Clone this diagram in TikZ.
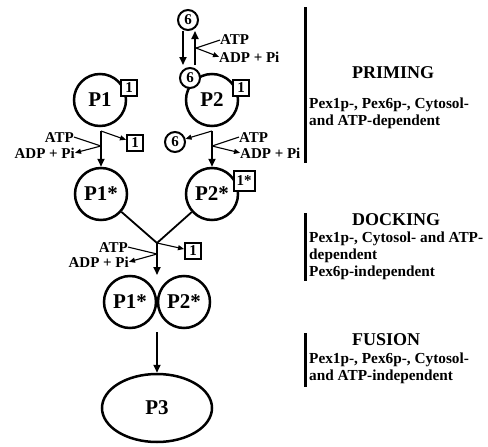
\documentclass[tikz,border=0pt]{standalone}
\usepackage{fontspec}
\setmainfont{Liberation Serif}
\usetikzlibrary{arrows.meta,shapes.geometric}
\begin{document}
\begin{tikzpicture}[x=1pt,y=-1pt,
  circ/.style={circle,draw,line width=2.5pt,inner sep=0pt,minimum size=52pt,fill=white,font=\fontsize{21}{21}\selectfont\bfseries},
  sixc/.style={circle,draw,line width=2pt,inner sep=0pt,minimum size=20pt,fill=white,font=\fontsize{15}{15}\selectfont\bfseries},
  sq/.style={rectangle,draw,line width=2pt,inner sep=0pt,minimum size=16pt,fill=white,font=\fontsize{15}{15}\selectfont\bfseries},
  lab/.style={inner sep=0pt,font=\fontsize{15}{15}\selectfont\bfseries},
  body/.style={inner sep=0pt,font=\fontsize{15.3}{15.3}\selectfont\bfseries},
  ttl/.style={inner sep=0pt,font=\fontsize{18}{18}\selectfont\bfseries},
  arr/.style={-{Triangle[length=8pt,width=7pt]},line width=1.8pt},
  thinarr/.style={-{Triangle[length=6pt,width=5pt]},line width=1.1pt},
  thinln/.style={line width=1.1pt},
  bar/.style={line width=3pt}
]
\useasboundingbox (0,0) rectangle (488,447);

% priming top
\node[circ] (P1) at (100,100) {P1};
\node[circ] (P2) at (212,100) {P2};
\node[sq] (b1) at (129,88) {1};
\node[sq] (b2) at (241,88) {1};
\node[sixc] (s6top) at (188,20) {6};
\node[sixc] (s6) at (190,78) {6};

\draw[arr,shorten >=2pt] ([xshift=-5pt]s6top.south) -- ([xshift=-7pt]s6.north);
\draw[arr,shorten <=2pt] ([xshift=5pt]s6.north) -- ([xshift=7pt]s6top.south);

\node[lab,anchor=base west] (atpT) at (220,45) {ATP};
\node[lab,anchor=base west] (adpT) at (219,62) {ADP + Pi};
\coordinate (kT) at (196,48);
\draw[thinln] (atpT.west) -- (kT);
\draw[thinarr] (kT) -- (adpT.west);

% P1 priming
\node[circ] (P1s) at (101,194) {P1*};
\coordinate (j1) at (101,131);
\draw[arr] (j1) -- (P1s);
\node[sq] (b3) at (135,143) {1};
\draw[thinarr] (j1) -- (b3);
\node[lab,anchor=base east] (atp1) at (74,142) {ATP};
\node[lab,anchor=base east] (adp1) at (75,158) {ADP + Pi};
\coordinate (k1) at (101,146);
\draw[thinln] (atp1.east) -- (k1);
\draw[thinarr] (k1) -- (adp1.east);

% P2 priming
\node[circ] (P2s) at (212,194) {P2*};
\coordinate (j2) at (212,131);
\draw[arr] (j2) -- (P2s);
\node[sixc] (s6b) at (175,142) {6};
\draw[thinarr] (j2) -- (s6b);
\node[lab,anchor=base west] (atp2) at (239,142) {ATP};
\node[lab,anchor=base west] (adp2) at (240,158) {ADP + Pi};
\coordinate (k2) at (212,146);
\draw[thinln] (atp2.west) -- (k2);
\draw[thinarr] (k2) -- (adp2.west);
\node[sq,minimum width=21pt,minimum height=20pt] (b4) at (244,181) {1*};

% docking
\coordinate (j3) at (157,243);
\draw[line width=1.8pt] (P1s) -- (j3);
\draw[line width=1.8pt] (P2s) -- (j3);
\coordinate (pairtop) at (157,275);
\draw[arr] (j3) -- (pairtop);
\node[sq] (b5) at (193,251) {1};
\draw[thinarr] (j3) -- (b5);
\node[lab,anchor=base east] (atp3) at (128,252) {ATP};
\node[lab,anchor=base east] (adp3) at (129,267) {ADP + Pi};
\coordinate (k3) at (157,254);
\draw[thinln] (atp3.east) -- (k3);
\draw[thinarr] (k3) -- (adp3.east);

\node[circ] (Q1) at (130,302) {P1*};
\node[circ] (Q2) at (184,302) {P2*};

% fusion
\coordinate (pairbot) at (157,332);
\node[ellipse,draw,line width=2.5pt,inner sep=0pt,minimum width=110pt,minimum height=68pt,font=\fontsize{21}{21}\selectfont\bfseries] (P3) at (157,408) {P3};
\draw[arr] (pairbot) -- (P3);

% right side
\draw[bar] (305,7) -- (305,163);
\node[ttl,anchor=base west] (tP) at (352,78) {PRIMING};
\node[body,anchor=base west] (tP1) at (309,108) {Pex1p-, Pex6p-, Cytosol-};
\node[body,anchor=base west] (tP2) at (309,125) {and ATP-dependent};

\draw[bar] (305,213) -- (305,281);
\node[ttl,anchor=base west] (tD) at (352,225) {DOCKING};
\node[body,anchor=base west] (tD1) at (309,242) {Pex1p-, Cytosol- and ATP-};
\node[body,anchor=base west] (tD2) at (309,259) {dependent};
\node[body,anchor=base west] (tD3) at (309,276) {Pex6p-independent};

\draw[bar] (305,333) -- (305,387);
\node[ttl,anchor=base west] (tF) at (352,345) {FUSION};
\node[body,anchor=base west] (tF1) at (309,363) {Pex1p-, Pex6p-, Cytosol-};
\node[body,anchor=base west] (tF2) at (309,380) {and ATP-independent};
\end{tikzpicture}
\end{document}
